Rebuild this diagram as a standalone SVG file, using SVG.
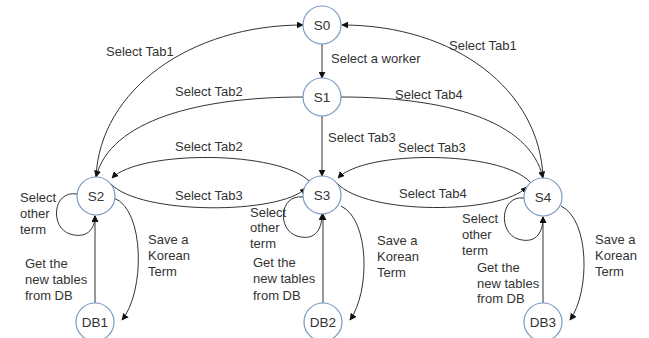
<svg xmlns="http://www.w3.org/2000/svg" width="649" height="338" viewBox="0 0 649 338">
  <defs>
    <marker id="arrow" viewBox="0 0 10 10" refX="9" refY="5" markerWidth="7" markerHeight="7" orient="auto" markerUnits="userSpaceOnUse">
      <path d="M0,0 L10,5 L0,10 z" fill="#111"/>
    </marker>
    <style>
      .node circle { fill: #fff; stroke: #7b9bc2; stroke-width: 1.2; }
      .node text { font-family: "Liberation Sans", Arial, sans-serif; font-size: 13.5px; fill: #333; text-anchor: middle; }
      .edge { fill: none; stroke: #333; stroke-width: 1; }
      .arr { marker-end: url(#arrow); }
      .lbl { font-family: "Liberation Sans", Arial, sans-serif; font-size: 13px; fill: #333; }
    </style>
  </defs>
  <rect width="649" height="338" fill="#fff"/>

  <!-- connectors -->
  <g id="connectors">
    <path class="edge arr" d="M322,44 L322,78"/>
    <path class="edge arr" d="M96,177 C 100,90 190,25 303,25"/>
    <path class="edge arr" d="M543,178 C 540,90 455,25 342,25"/>
    <path class="edge arr" d="M303,97 C 200,97 110,120 96,177"/>
    <path class="edge arr" d="M341,97 C 445,97 530,120 543,178"/>
    <path class="edge arr" d="M322,115 L322,176"/>
    <path class="edge arr" d="M310,182 C 280,150 140,150 112,178"/>
    <path class="edge arr" d="M111,184 C 140,215 280,215 306,188"/>
    <path class="edge arr" d="M530,182 C 500,150 365,150 338,178"/>
    <path class="edge arr" d="M337,183 C 365,215 500,215 527,187"/>
    <!-- self loops -->
    <path class="edge arr" d="M77,194 C 52,190 50,228 70,234 C 86,239 95,230 95,216"/>
    <path class="edge arr" d="M303,197 C 279,194 277,230 297,236 C 313,241 322,232 322,214"/>
    <path class="edge arr" d="M524,198 C 500,195 498,233 518,239 C 534,244 543,235 543,217"/>
    <!-- save arrows -->
    <path class="edge arr" d="M114,198 C 145,210 145,292 122,320"/>
    <path class="edge arr" d="M341,206 C 370,220 370,292 350,320"/>
    <path class="edge arr" d="M561,206 C 590,220 590,292 570,320"/>
    <!-- DB to state -->
    <path class="edge arr" d="M95,303 L95,216"/>
    <path class="edge arr" d="M323,303 L323,214"/>
    <path class="edge arr" d="M543,303 L543,217"/>
  </g>

  <!-- labels -->
  <g id="labels" class="lbl">
    <text x="331" y="63">Select a worker</text>
    <text x="106" y="56">Select Tab1</text>
    <text x="449" y="50">Select Tab1</text>
    <text x="175" y="96">Select Tab2</text>
    <text x="395" y="99">Select Tab4</text>
    <text x="328" y="142">Select Tab3</text>
    <text x="175" y="151">Select Tab2</text>
    <text x="175" y="200">Select Tab3</text>
    <text x="398" y="152">Select Tab3</text>
    <text x="399" y="198">Select Tab4</text>
    <text x="20" y="202">Select</text><text x="20" y="218">other</text><text x="20" y="234">term</text>
    <text x="250" y="217">Select</text><text x="250" y="232">other</text><text x="250" y="248">term</text>
    <text x="462" y="223">Select</text><text x="462" y="239">other</text><text x="462" y="255">term</text>
    <text x="25" y="268">Get the</text><text x="25" y="284">new tables</text><text x="25" y="300">from DB</text>
    <text x="253" y="267">Get the</text><text x="253" y="283">new tables</text><text x="253" y="300">from DB</text>
    <text x="477" y="272">Get the</text><text x="477" y="288">new tables</text><text x="477" y="303">from DB</text>
    <text x="148" y="244">Save a</text><text x="148" y="260">Korean</text><text x="148" y="276">Term</text>
    <text x="377" y="245">Save a</text><text x="377" y="261">Korean</text><text x="377" y="277">Term</text>
    <text x="595" y="244">Save a</text><text x="595" y="260">Korean</text><text x="595" y="276">Term</text>
  </g>

  <!-- nodes -->
  <g id="S0" class="node"><circle cx="322" cy="25" r="19"/><text x="322" y="30">S0</text></g>
  <g id="S1" class="node"><circle cx="322" cy="97" r="19"/><text x="322" y="102">S1</text></g>
  <g id="S2" class="node"><circle cx="96" cy="196" r="19"/><text x="96" y="201">S2</text></g>
  <g id="S3" class="node"><circle cx="322" cy="195" r="19"/><text x="322" y="200">S3</text></g>
  <g id="S4" class="node"><circle cx="543" cy="197" r="19"/><text x="543" y="202">S4</text></g>
  <g id="DB1" class="node"><circle cx="95" cy="322" r="19"/><text x="95" y="327">DB1</text></g>
  <g id="DB2" class="node"><circle cx="323" cy="322" r="19"/><text x="323" y="327">DB2</text></g>
  <g id="DB3" class="node"><circle cx="543" cy="322" r="19"/><text x="543" y="327">DB3</text></g>
</svg>
